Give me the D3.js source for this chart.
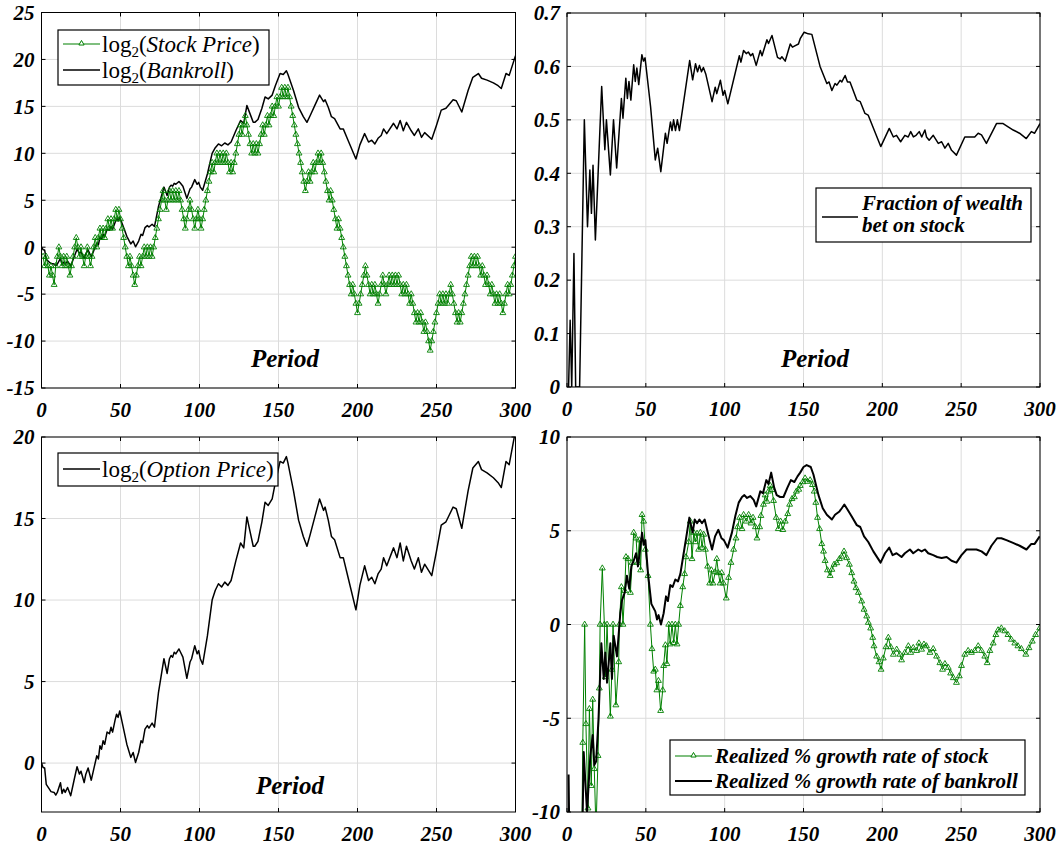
<!DOCTYPE html>
<html><head><meta charset="utf-8">
<script src="https://cdn.jsdelivr.net/npm/d3@7"></script>
<style>
body{margin:0;background:#fff}
svg{display:block}
text{font-family:"Liberation Serif","Times New Roman",serif}
</style>
</head><body>
<svg id="chart" width="1062" height="849"></svg>
<script>
// ---------- tick labels ----------
const periodTicks = [0, 50, 100, 150, 200, 250, 300];
const stockYTicks = [-15, -10, -5, 0, 5, 10, 15, 20, 25];
const fractionYTicks = [0, 0.1, 0.2, 0.3, 0.4, 0.5, 0.6, 0.7];
const optionYTicks = [0, 5, 10, 15, 20];
const growthYTicks = [-10, -5, 0, 5, 10];

// ---------- data ----------
// log2(stock price), periods 1..300
const stockLog2 = [
 -1,-2,-1,-2,-3,-2,-3,-4,-2,-1,0,
 -1,-2,-1,-2,-1,-2,-3,-2,-1,
 0,1,0,-1,0,-1,-2,-1,0,-1,-2,-1,0,1,0,
 1,2,1,2,1,2,3,2,3,2,3,4,3,4,3,
 2,1,0,-1,-2,-1,-2,-3,-4,-3,-2,-1,-2,-1,0,
 -1,0,-1,0,-1,0,
 1,2,3,4,5,6,5,
 4,5,6,5,6,5,6,5,6,5,4,
 3,2,3,4,5,4,3,2,3,4,3,2,
 3,4,5,6,7,8,9,8,9,10,9,10,9,10,9,10,9,8,9,8,9,
 10,11,12,13,12,13,14,13,12,
 11,10,11,10,11,10,11,12,
 13,12,13,14,13,14,15,14,15,16,15,16,17,16,17,16,17,16,
 15,14,13,12,11,10,9,8,7,6,
 7,8,7,8,9,8,9,10,9,10,9,8,7,
 6,5,6,5,4,3,2,3,2,1,0,-1,-2,-3,-4,-5,-4,-5,-6,-7,-6,-5,-4,-3,-2,
 -3,-4,-5,-4,-5,-4,-5,-6,-5,-4,-3,-4,-5,-4,-3,-4,-3,-4,-3,-4,-3,-4,
 -5,-4,-5,-4,-5,-6,-5,-6,-7,-8,-7,-8,-7,-8,-9,-8,-9,-10,-11,-10,
 -9,-8,-7,-6,-5,-6,-5,-6,-5,-6,-5,
 -4,-5,-6,-7,-8,-7,-8,-7,-6,-5,-4,-3,-2,-1,-2,
 -1,-2,-1,-2,-3,-2,-3,-4,-3,-4,-5,-4,-5,-6,-5,-6,-5,-6,-7,
 -6,-5,-4,-5,-4,-3,-2,-1
];

// log2(bankroll) [period, value]  (the option price panel shows the same curve)
const bankrollLog2 = [
 [0,0],[1,-0.27],[2,-0.3],[3,-1.3],[5,-1.6],[6,-1.75],[8,-1.8],[9,-1.96],[10,-1.8],[12,-1.2],
 [13,-1.86],[14,-1.6],[15,-1.8],[16.5,-1.5],[18.5,-2],[20.5,-1.1],[22.5,-0.22],[24,-0.67],[25,-0.5],
 [27,-1.2],[28,-0.7],[29.5,-0.3],[31.5,-1.05],[33,-0.4],[35,0.45],[36,0.25],[37,1.06],[38,0.85],
 [39,1.37],[40,1.15],[41.5,1.9],[43,1.8],[44,2.2],[45,1.9],[46.5,2.6],[47.5,3],[48.5,2.8],[49.5,3.2],
 [51.5,2.3],[54,1.16],[56.5,0.35],[58,0.65],[59.5,0.04],[61.5,0.65],[63,1.37],[64,1.25],[65.5,2.08],
 [67,2.3],[68,2.15],[70,2.45],[71.5,2.2],[74,4.3],[77.5,6.4],[79.5,5.5],[81,6.4],[82,6.6],[83,6.5],
 [84,6.8],[85,6.7],[87,7],[88,6.8],[89.5,6.5],[92,5.2],[94,6.2],[95,6.4],[97,7.2],[98.5,6.7],
 [99.5,6.9],[100.5,6.4],[102,6.06],[105,7.8],[108,10],[110,10.6],[112,11],[114,10.8],[116,11.1],
 [118,10.9],[120,11.2],[123,12.4],[126,13.5],[128,13.2],[130,15.1],[132,14.2],[134,13.3],[135,13.3],
 [137,13.6],[139.5,14.8],[141.5,16],[143.5,15.8],[146,16.2],[148,17.2],[151,18.5],[153,18.4],
 [155,18.8],[156,18.4],[159.5,16.7],[162.7,14.9],[165.7,13.9],[168,13.3],[170,14],[173,15.1],
 [176,16.2],[178.5,15.5],[179.5,15.7],[181.5,14.9],[183.5,13.9],[185.5,13.7],[189,12.6],[191,12.6],
 [194,11.4],[199,9.4],[201.5,10.9],[204.5,12.1],[207,11.2],[209,11.4],[211,11],[213,11.6],[215,11.9],
 [216.5,12.6],[218.5,12.1],[222.8,13.2],[225,12.6],[227,13.5],[229,12.4],[231,13.3],[234,12.4],
 [236,11.9],[238.5,12.6],[240.5,11.7],[242.5,12.2],[247,11.5],[250,13],[253,14.6],[256,14.8],
 [258,15.2],[260.5,15.7],[262.5,15.6],[266,14.4],[270,16.7],[273,18.1],[276.5,18.5],[278.5,18],
 [282,17.8],[286,17.5],[289,17.2],[291,16.9],[294,18.5],[296,18.3],[300,20.4]
];
const optionLog2 = bankrollLog2;

// fraction of wealth bet on stock [period, value]
const fractionBet = [
 [1,0],[2,0.125],[3,0],[4.4,0.25],[5.5,0],[8,0],[11,0.5],[13,0.3],[14.5,0.406],[15.5,0.325],
 [16.5,0.415],[18,0.275],[22,0.5625],[24,0.444],[25,0.5],[27.5,0.397],[29.5,0.5],[31.5,0.41],
 [34.5,0.54],[35.5,0.503],[37.3,0.578],[38.3,0.54],[39.3,0.572],[40.5,0.537],[42.3,0.603],
 [43.3,0.572],[44.3,0.597],[45.5,0.566],[47.5,0.622],[48.5,0.61],[49.5,0.616],[53,0.525],
 [56,0.425],[57.5,0.447],[59.5,0.403],[62.4,0.475],[63.5,0.456],[65.6,0.496],[66.6,0.48],
 [67.6,0.5],[68.8,0.48],[70,0.5],[71.3,0.48],[77.8,0.611],[79.7,0.575],[81.5,0.605],[82.8,0.59],
 [84,0.602],[85.3,0.59],[86.5,0.598],[88,0.586],[92,0.534],[94,0.561],[95,0.549],[97.3,0.574],
 [99,0.546],[100,0.555],[102,0.53],[109.3,0.62],[110.3,0.608],[112,0.63],[113.7,0.624],[115,0.627],
 [116.5,0.62],[117.8,0.624],[120,0.602],[122.6,0.63],[123.7,0.62],[126.8,0.65],[127.8,0.643],
 [130,0.658],[133.5,0.617],[135.2,0.614],[136.3,0.618],[138.4,0.61],[141.6,0.642],[143,0.636],
 [144.8,0.639],[146.8,0.642],[147.9,0.652],[150.4,0.664],[153,0.661],[155.3,0.66],[160.5,0.6],
 [164.8,0.568],[166.2,0.571],[168,0.555],[170,0.568],[171.2,0.565],[173.2,0.574],[174.3,0.571],
 [176.4,0.583],[177.9,0.571],[179.5,0.571],[183.8,0.537],[186,0.534],[189,0.512],[191,0.509],
 [199,0.45],[204.4,0.484],[207,0.468],[209,0.471],[211.6,0.459],[214.3,0.471],[216.4,0.468],
 [218,0.478],[219.7,0.468],[221.4,0.471],[223.4,0.478],[225,0.468],[227,0.481],[228,0.468],
 [229.7,0.462],[232.3,0.471],[235.5,0.456],[237.6,0.459],[239.7,0.447],[241.8,0.456],[243.9,0.443],
 [247,0.434],[252.3,0.468],[254.4,0.468],[258.6,0.468],[260.8,0.475],[262.9,0.472],[266,0.456],
 [272.4,0.493],[276.6,0.493],[279.8,0.487],[283,0.481],[287,0.475],[291.3,0.465],[294.5,0.478],
 [296.6,0.475],[300,0.493]
];

// realized % growth rate of stock [period, value]
const stockGrowth = [
 [9,-15],[10,-6.3],[11.2,0],[12,-5.3],[13.3,-9.8],[14.2,-4.5],[15.4,-8.6],[16.3,-4],[17.3,-7.7],
 [18.4,-11],[19.7,-7],[20.5,-3.4],[21,0],[22.4,3],[23.7,0],[24.3,-2.8],[25.4,0],[27.5,-4.9],
 [28.5,-2.4],[29.2,0],[31,-4.3],[32.8,-2],[33.2,0],[34.5,2],[35.5,0],[36.6,1.8],[37.4,3.6],
 [38.7,3.5],[40.2,1.7],[41.3,3.3],[42.3,4.9],[43.8,4.6],[44.8,3.3],[45.9,4.5],[46.7,2.9],
 [47.6,5.85],[48.6,5.5],[49.7,4],[51.4,2.6],[52.9,0],[53.9,-1.3],[55,-2.5],[56,-2.4],[57,-3.5],
 [58,-3],[59.4,-4.6],[60.7,-3.5],[61.3,-2.2],[62.4,-1.1],[63.4,-2.1],[64.5,0],[65.5,-1.05],
 [66.6,0],[67.7,-0.98],[68.7,0],[69.8,-1.05],[70.8,0],[71.9,1],[73.4,2],[74.6,2.7],[75.5,3.6],
 [77.2,4.4],[78.2,5.5],[79.3,3.5],[80.4,4.9],[81.4,4.4],[82.5,4.85],[83.5,4.0],[84.6,4.9],
 [85.7,4.1],[86.7,4.8],[87.8,4.0],[89.2,3.1],[90.5,2.2],[91.6,2.9],[92.6,2.2],[94,2.8],[95,3.5],
 [96,2.75],[97.1,2.2],[98.1,2.75],[99.2,2.2],[101,1.4],[102.5,2.5],[104,3.3],[105.7,4],[107.2,4.6],
 [108.2,5.2],[109.5,5.7],[111,5.1],[112,5.85],[113.7,5.5],[115.2,5.85],[116.7,5.4],[118,5.7],
 [119.5,5.2],[120.5,4.6],[122.2,5.2],[123,5.8],[124.6,6.4],[125.7,6.9],[126.8,6.56],[127.8,7.1],
 [128.9,7.4],[130,7.18],[131,6.6],[132.7,5.7],[134,5.1],[135.5,5.5],[136.9,5.05],[138.4,5.5],
 [140,5.9],[141.2,6.4],[142.7,6.7],[144.2,6.8],[145.5,7.1],[147,7.2],[147.9,7.4],[149.6,7.6],
 [151,7.8],[152.5,7.62],[154.2,7.7],[155.7,7.45],[156.8,7.1],[157.8,6.5],[158.9,5.7],[160.2,5.1],
 [161.6,4.3],[162.7,3.9],[163.7,3.4],[165.2,2.9],[166.9,2.6],[168,2.93],[169.4,3.2],[171.1,3.28],
 [172.8,3.5],[174.2,3.63],[175.7,3.9],[177.4,3.55],[179.1,3.2],[180.6,2.75],[182,2.3],[183.3,1.95],
 [184.8,1.7],[186.9,1.24],[188.4,0.8],[190.1,0.44],[191.1,0.1],[192.6,-0.2],[193.9,-0.7],
 [194.7,-1.15],[196.4,-1.7],[197.9,-2],[199.2,-2.4],[200.6,-1.8],[202.3,-1.2],[203.8,-0.7],
 [205.3,-1.2],[207,-1.6],[209.1,-1.33],[211.2,-1.6],[212.2,-1.9],[214.3,-1.5],[216.5,-1.15],
 [218,-1.5],[219.6,-1.24],[221.7,-1.4],[223.2,-1],[224.9,-1.33],[226.4,-1.06],[228,-1.15],
 [230.2,-1.5],[232.3,-1.3],[234.4,-1.7],[236.5,-2.05],[238.2,-2.4],[239.7,-2.1],[241.8,-2.3],
 [243.3,-2.6],[245,-2.85],[247,-3.1],[248.8,-2.75],[250.2,-2.2],[252.3,-1.6],[254.4,-1.4],
 [256.5,-1.5],[258.6,-1.4],[260.8,-1.15],[262.9,-1.4],[265,-1.7],[266.5,-2.05],[268.2,-1.4],
 [270.3,-1],[272,-0.55],[273.4,-0.3],[275.5,-0.2],[277.6,-0.35],[279.7,-0.55],[281.8,-0.8],
 [284,-1],[286,-1.15],[288.2,-1.3],[291,-1.6],[293,-1.25],[295.1,-0.9],[297.2,-0.55],[299.8,-0.2]
];

// realized % growth rate of bankroll [period, value]
const bankrollGrowth = [
 [1,-8],[2,-15],[9,-15],[10.6,-6.8],[12.7,-10],[14.8,-7],[16.3,-5.9],[17.3,-7.5],[18.5,-7.3],
 [20,-5],[21.8,-1],[23.3,-2.9],[24.3,-1.5],[25.4,-3.1],[27.5,-1],[28.5,-2.9],[29.6,-0.6],
 [31.7,-1.7],[33.8,0.6],[34.9,1.3],[36.6,1.7],[38,2.6],[39.5,1.9],[40.8,3.1],[42.3,3.4],[43.8,3.8],
 [45,3.1],[46.5,4.1],[47.6,4.9],[48.6,4.25],[49.7,4.5],[51.4,2.7],[53.5,1.1],[56,0.7],[57.1,0.27],
 [58.1,0.5],[59.6,0],[61.3,0.6],[62.8,1.5],[64,1.25],[65.5,2.1],[67,2],[68.7,2.4],[70.4,2.3],
 [71.9,2.7],[74,3.8],[76.1,4.9],[77.6,5.7],[79.7,4.9],[81,5.6],[82.5,5.4],[84,5.6],[85.6,5.4],
 [87.3,5.6],[89.9,4.7],[92,4],[93.9,4.7],[96,5.05],[98,4.6],[99.5,4.5],[101.9,4.1],[104.6,4.9],
 [106.8,5.8],[108.9,6.5],[111,6.8],[112.5,6.9],[114.2,6.75],[116.3,6.85],[118.4,6.65],[120,6.3],
 [122.6,7.1],[124.3,7.0],[126.4,7.7],[127.8,7.5],[129.5,8.1],[131.4,7.3],[133,6.9],[135.2,6.8],
 [137.3,6.8],[139.8,7.3],[142,7.7],[144.2,7.6],[146.2,7.9],[147.9,8.1],[150,8.4],[152,8.5],
 [154.6,8.4],[156.3,8],[159.5,6.9],[162.2,6.2],[164.8,5.85],[168,5.6],[170,5.85],[172.8,6.03],
 [174.3,6.2],[175.9,6.4],[177.4,6.2],[180.6,5.76],[183.8,5.3],[186,5.2],[188.4,4.7],[191.1,4.4],
 [194.3,3.9],[198.9,3.3],[201.7,3.8],[204.4,4.1],[206.5,3.7],[209,3.8],[212.2,3.6],[214.3,3.8],
 [217.5,4],[219.6,3.8],[222.8,4],[224.9,3.9],[227,4],[229.1,3.8],[232.3,3.7],[234.8,3.6],
 [237.6,3.55],[240.8,3.6],[243.9,3.4],[247,3.3],[250.2,3.7],[253.4,4],[256.5,4],[259.7,4],
 [262.9,3.9],[266,3.7],[269.2,4.2],[272.8,4.6],[275.5,4.6],[278.7,4.5],[282.9,4.35],[287.1,4.2],
 [291.4,4],[294.5,4.3],[296.6,4.3],[299.8,4.7]
];

// ---------- drawing ----------
const svg = d3.select("#chart");
const GREEN = "#008000";
const GRID = "#dcdcdc";
const defs = svg.append("defs");
let clipId = 0;

function fmtTick(v){ return (Math.abs(v) < 1e-9) ? "0" : String(+v.toFixed(2)); }

function panel(o){
  const x = d3.scaleLinear().domain([0,300]).range([o.l, o.r]);
  const y = d3.scaleLinear().domain(o.ydom).range([o.b, o.t]);
  const g = svg.append("g");
  g.selectAll(null).data(periodTicks).join("line")
    .attr("x1", d=>x(d)).attr("x2", d=>x(d)).attr("y1", o.t).attr("y2", o.b)
    .attr("stroke", GRID).attr("stroke-width", 1);
  g.selectAll(null).data(o.yticks).join("line")
    .attr("x1", o.l).attr("x2", o.r).attr("y1", d=>y(d)).attr("y2", d=>y(d))
    .attr("stroke", GRID).attr("stroke-width", 1);
  const id = "clip" + (clipId++);
  defs.append("clipPath").attr("id", id).append("rect")
    .attr("x", o.l).attr("y", o.t).attr("width", o.r - o.l).attr("height", o.b - o.t);
  const plot = g.append("g").attr("clip-path", `url(#${id})`);
  const line = d3.line().x(d=>x(d[0])).y(d=>y(d[1]));
  o.series.forEach(s => {
    plot.append("path").datum(s.data).attr("d", line)
      .attr("fill", "none").attr("stroke", s.color).attr("stroke-width", s.width)
      .attr("stroke-linejoin", "round");
    if (s.marker) {
      const sym = d3.symbol(d3.symbolTriangle, 15);
      plot.selectAll(null).data(s.data).join("path")
        .attr("d", sym)
        .attr("transform", d=>`translate(${x(d[0])},${y(d[1])})`)
        .attr("fill", "none").attr("stroke", s.color).attr("stroke-width", 0.9);
    }
  });
  g.append("rect").attr("x", o.l).attr("y", o.t).attr("width", o.r - o.l).attr("height", o.b - o.t)
    .attr("fill", "none").attr("stroke", "#000").attr("stroke-width", 1);
  const tk = 4;
  periodTicks.forEach(v => {
    g.append("line").attr("x1", x(v)).attr("x2", x(v)).attr("y1", o.b).attr("y2", o.b - tk).attr("stroke", "#000");
    g.append("line").attr("x1", x(v)).attr("x2", x(v)).attr("y1", o.t).attr("y2", o.t + tk).attr("stroke", "#000");
  });
  o.yticks.forEach(v => {
    g.append("line").attr("x1", o.l).attr("x2", o.l + tk).attr("y1", y(v)).attr("y2", y(v)).attr("stroke", "#000");
    g.append("line").attr("x1", o.r).attr("x2", o.r - tk).attr("y1", y(v)).attr("y2", y(v)).attr("stroke", "#000");
  });
  g.selectAll(null).data(periodTicks).join("text")
    .attr("x", d=>x(d)).attr("y", o.b + 29).attr("text-anchor", "middle")
    .attr("font-size", 21).attr("font-weight", "bold").attr("font-style", "italic")
    .text(d=>d);
  g.selectAll(null).data(o.yticks).join("text")
    .attr("x", o.l - 7).attr("y", d=>y(d)).attr("dy", "0.35em").attr("text-anchor", "end")
    .attr("font-size", 21).attr("font-weight", "bold").attr("font-style", "italic")
    .text(d=>fmtTick(d));
  if (o.xlabel) {
    g.append("text").attr("x", o.xlabel[0]).attr("y", o.xlabel[1]).attr("text-anchor", "middle")
      .attr("font-size", 25).attr("font-weight", "bold").attr("font-style", "italic").text("Period");
  }
  return {x, y, g};
}

const stockPts = stockLog2.map((v, i) => [i + 1, v]);

panel({l:41.5, r:515.5, t:12.5, b:388, ydom:[-15,25], yticks:stockYTicks,
  xlabel:[285, 367],
  series:[
    {data:bankrollLog2, color:"#000", width:1.5},
    {data:stockPts, color:GREEN, width:1, marker:true}
  ]});
panel({l:567, r:1040, t:13, b:387, ydom:[0,0.7], yticks:fractionYTicks,
  xlabel:[815, 367],
  series:[{data:fractionBet, color:"#000", width:1.5}]});
panel({l:41.5, r:515.5, t:437, b:812, ydom:[-3,20], yticks:optionYTicks,
  xlabel:[290, 794],
  series:[{data:optionLog2, color:"#000", width:1.5}]});
panel({l:567, r:1040, t:437, b:812, ydom:[-10,10], yticks:growthYTicks,
  series:[
    {data:stockGrowth, color:GREEN, width:1, marker:true},
    {data:bankrollGrowth, color:"#000", width:2}
  ]});

// ---------- legends ----------
function legendBox(x0, y0, w, h){
  svg.append("rect").attr("x", x0).attr("y", y0).attr("width", w).attr("height", h)
    .attr("fill", "#fff").attr("stroke", "#000").attr("stroke-width", 1.2);
}
function sample(x1, x2, yy, color, width, marker){
  svg.append("line").attr("x1", x1).attr("x2", x2).attr("y1", yy).attr("y2", yy)
    .attr("stroke", color).attr("stroke-width", width);
  if (marker) {
    svg.append("path").attr("d", d3.symbol(d3.symbolTriangle, 12)())
      .attr("transform", `translate(${(x1 + x2) / 2},${yy - 0.5})`)
      .attr("fill", "#fff").attr("stroke", color).attr("stroke-width", 1);
  }
}
function logLabel(x0, yy, name){
  const t = svg.append("text").attr("x", x0).attr("y", yy).attr("font-size", 23);
  t.append("tspan").text("log");
  t.append("tspan").attr("dy", 5).attr("font-size", 15).text("2");
  t.append("tspan").attr("dy", -5).text("(");
  t.append("tspan").attr("font-style", "italic").text(name);
  t.append("tspan").text(")");
}
function boldLabel(x0, yy, str){
  svg.append("text").attr("x", x0).attr("y", yy).attr("font-size", 21).attr("font-weight", "bold")
    .attr("font-style", "italic").text(str);
}
// top-left legend
legendBox(58, 30, 211, 55);
sample(63, 100, 44, GREEN, 1.2, true);
logLabel(102, 52, "Stock Price");
sample(63, 100, 70, "#000", 1.5, false);
logLabel(102, 78, "Bankroll");
// top-right legend
legendBox(816, 188, 215, 54);
sample(822, 858, 217, "#000", 1.5, false);
boldLabel(862, 210, "Fraction of wealth");
boldLabel(862, 232, "bet on stock");
// bottom-left legend
legendBox(58, 453, 220, 33);
sample(63, 100, 469, "#000", 1.5, false);
logLabel(102, 477, "Option Price");
// bottom-right legend
legendBox(670, 740, 355, 55);
sample(675, 712, 756, GREEN, 1.2, true);
boldLabel(715, 763, "Realized % growth rate of stock");
sample(675, 712, 781, "#000", 2.2, false);
boldLabel(715, 788, "Realized % growth rate of bankroll");
</script>
</body></html>
